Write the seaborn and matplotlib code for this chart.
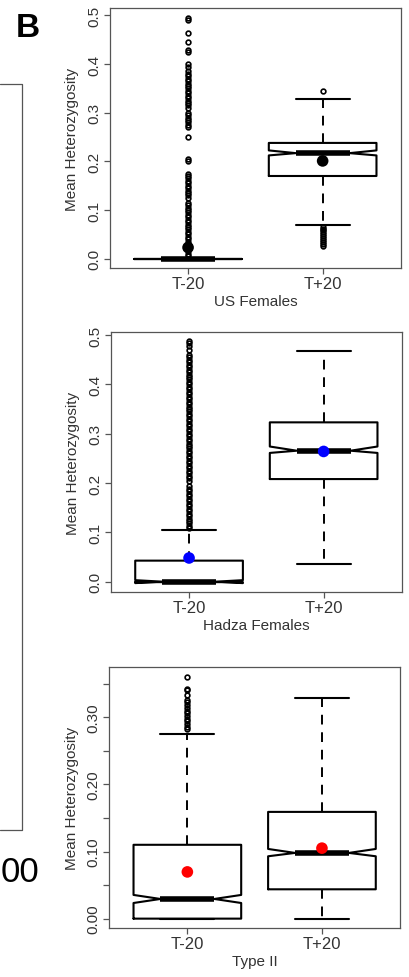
import matplotlib
matplotlib.use("Agg")
import matplotlib.pyplot as plt
from matplotlib.lines import Line2D
import seaborn as sns
import pandas as pd

# ---------------- data ----------------
groups = ["T-20", "T+20"]
panel_titles = ["US Females", "Hadza Females", "Type II"]
y_label = "Mean Heterozygosity"

# US Females
us_q1 = [0.0, 0.170]
us_med = [0.0, 0.217]
us_q3 = [0.0, 0.238]
us_whislo = [0.0, 0.070]
us_whishi = [0.0, 0.329]
us_cilo = [0.0, 0.2123]
us_cihi = [0.0, 0.2226]
us_mean = [0.023, 0.201]
us_fliers_t20 = [0.495, 0.490, 0.465, 0.445, 0.430, 0.425, 0.400, 0.395, 0.385,
                 0.380, 0.375, 0.370, 0.365, 0.360, 0.355, 0.350, 0.345, 0.340,
                 0.335, 0.330, 0.325, 0.320, 0.315, 0.310, 0.300, 0.295, 0.290,
                 0.285, 0.280, 0.275, 0.270, 0.250, 0.205, 0.200, 0.175, 0.170,
                 0.165, 0.160, 0.155, 0.150, 0.145, 0.140, 0.135, 0.130, 0.125,
                 0.115, 0.110, 0.105, 0.100, 0.095, 0.090, 0.085, 0.080, 0.075,
                 0.070, 0.065, 0.060, 0.055, 0.050, 0.045, 0.040, 0.035, 0.030,
                 0.025, 0.020, 0.015, 0.010, 0.005]
us_fliers_t20p = [0.345, 0.066, 0.062, 0.058, 0.054, 0.050, 0.046, 0.042, 0.038,
                  0.034, 0.030, 0.026]

# Hadza Females
hz_q1 = [-0.001, 0.208]
hz_med = [0.0, 0.2655]
hz_q3 = [0.0426, 0.323]
hz_whislo = [-0.001, 0.036]
hz_whishi = [0.105, 0.467]
hz_cilo = [-0.003, 0.261]
hz_cihi = [0.003, 0.274]
hz_mean = [0.048, 0.264]
hz_fliers_t20 = [0.487, 0.483, 0.478, 0.470, 0.460, 0.455, 0.450, 0.445, 0.440,
                 0.435, 0.430, 0.425, 0.420, 0.415, 0.410, 0.405, 0.400, 0.395,
                 0.390, 0.385, 0.380, 0.375, 0.370, 0.365, 0.360, 0.355, 0.350,
                 0.345, 0.340, 0.335, 0.330, 0.325, 0.320, 0.315, 0.310, 0.305,
                 0.300, 0.295, 0.290, 0.285, 0.280, 0.275, 0.270, 0.265, 0.260,
                 0.255, 0.250, 0.245, 0.240, 0.235, 0.230, 0.225, 0.220, 0.215,
                 0.210, 0.205, 0.193, 0.188, 0.183, 0.178, 0.173, 0.168, 0.163,
                 0.158, 0.153, 0.148, 0.143, 0.138, 0.133, 0.128, 0.123, 0.118,
                 0.113, 0.108]
hz_fliers_t20p = []

# Type II
t2_q1 = [0.0, 0.0437]
t2_med = [0.0293, 0.0979]
t2_q3 = [0.110, 0.159]
t2_whislo = [0.0, 0.0]
t2_whishi = [0.275, 0.329]
t2_cilo = [0.0233, 0.0929]
t2_cihi = [0.0353, 0.1038]
t2_mean = [0.0696, 0.105]
t2_fliers_t20 = [0.360, 0.342, 0.340, 0.333, 0.325, 0.322, 0.318, 0.314, 0.310,
                 0.306, 0.302, 0.298, 0.294, 0.290, 0.286, 0.282]
t2_fliers_t20p = []

mean_colors = ["black", "#0000FF", "#FF0000"]

# ---------------- style ----------------
sns.set_style("white")
plt.rcParams["font.family"] = ["Liberation Sans", "DejaVu Sans"]
text_col = "#333333"
frame_col = "#555555"

W, H = 410, 978
fig = plt.figure(figsize=(W / 100, H / 100), dpi=100)

def rect(left, top, right, bottom):
    return [left / W, 1 - bottom / H, (right - left) / W, (bottom - top) / H]

axes_rects = [rect(110, 9.3, 400.7, 269.3),
              rect(111, 332.7, 401.7, 593.3),
              rect(109.3, 668.3, 400, 929.3)]
ylims = [(-0.0198, 0.5148), (-0.0216, 0.5068), (-0.0144, 0.3744)]

panels = [
    (us_q1, us_med, us_q3, us_whislo, us_whishi, us_cilo, us_cihi, us_mean,
     [us_fliers_t20, us_fliers_t20p]),
    (hz_q1, hz_med, hz_q3, hz_whislo, hz_whishi, hz_cilo, hz_cihi, hz_mean,
     [hz_fliers_t20, hz_fliers_t20p]),
    (t2_q1, t2_med, t2_q3, t2_whislo, t2_whishi, t2_cilo, t2_cihi, t2_mean,
     [t2_fliers_t20, t2_fliers_t20p]),
]

for i, (q1, med, q3, wlo, whi, clo, chi, mean, fliers) in enumerate(panels):
    ax = fig.add_axes(axes_rects[i])
    stats = []
    for j in range(2):
        stats.append(dict(med=med[j], q1=q1[j], q3=q3[j], whislo=wlo[j],
                          whishi=whi[j], cilo=clo[j], cihi=chi[j],
                          fliers=fliers[j], label=groups[j]))
    ax.bxp(stats, positions=[1, 2], widths=0.8, capwidths=0.4,
           shownotches=True, showfliers=True,
           boxprops=dict(color="black", linewidth=1.5),
           medianprops=dict(color="black", linewidth=4.0, solid_capstyle="butt"),
           whiskerprops=dict(color="black", linewidth=1.4, linestyle=(0, (5, 4))),
           capprops=dict(color="black", linewidth=1.5),
           flierprops=dict(marker="o", markerfacecolor="none",
                           markeredgecolor="black", markersize=3.4,
                           markeredgewidth=1.2, linestyle="none"))
    mdf = pd.DataFrame({"pos": [1, 2], "mean": mean})
    sns.scatterplot(data=mdf, x="pos", y="mean", ax=ax, color=mean_colors[i],
                    s=70, edgecolor="none", zorder=6, legend=False)

    ax.set_xlim(0.42, 2.58)
    ax.set_ylim(*ylims[i])
    ax.set_xticks([1, 2])
    ax.set_xticklabels(groups)
    if i < 2:
        ax.set_yticks([0.0, 0.1, 0.2, 0.3, 0.4, 0.5])
        ax.set_yticklabels(["0.0", "0.1", "0.2", "0.3", "0.4", "0.5"])
    else:
        ax.set_yticks([0.0, 0.05, 0.10, 0.15, 0.20, 0.25, 0.30, 0.35])
        ax.set_yticklabels(["0.00", "", "0.10", "", "0.20", "", "0.30", ""])
    ax.tick_params(axis="both", direction="out", length=4.3, width=0.9,
                   color=frame_col, labelcolor=text_col,
                   left=True, bottom=True)
    ax.tick_params(axis="x", pad=1.5, labelsize=12)
    ax.tick_params(axis="y", pad=2, labelsize=11)
    for lab in ax.get_yticklabels():
        lab.set_rotation(90)
        lab.set_va("center")
    for sp in ax.spines.values():
        sp.set_visible(True)
        sp.set_color(frame_col)
        sp.set_linewidth(0.9)
    ax.set_xlabel(panel_titles[i], fontsize=11, color=text_col)
    ax.set_ylabel(y_label, fontsize=11, color=text_col)
    ax.xaxis.set_label_coords(0.5, -0.097)
    ax.yaxis.set_label_coords(-0.105, 0.5)
    ax.xaxis.label.set_va("top")
    ax.set_facecolor("white")

# panel letter and fragments from neighbouring panel
fig.text(16 / W, 1 - 37 / H, "B", fontsize=24, fontweight="bold",
         color="black", ha="left", va="baseline")
fig.text(1 / W, 1 - 882 / H, "00", fontsize=25,
         family=["Liberation Sans Narrow", "Liberation Sans", "DejaVu Sans"],
         color="black", ha="left", va="baseline")
fig.add_artist(Line2D([0, 22 / W, 22 / W, 0],
                      [1 - 85 / H, 1 - 85 / H, 1 - 831 / H, 1 - 831 / H],
                      color=frame_col, linewidth=0.9))

fig.savefig("out.png", dpi=100)
